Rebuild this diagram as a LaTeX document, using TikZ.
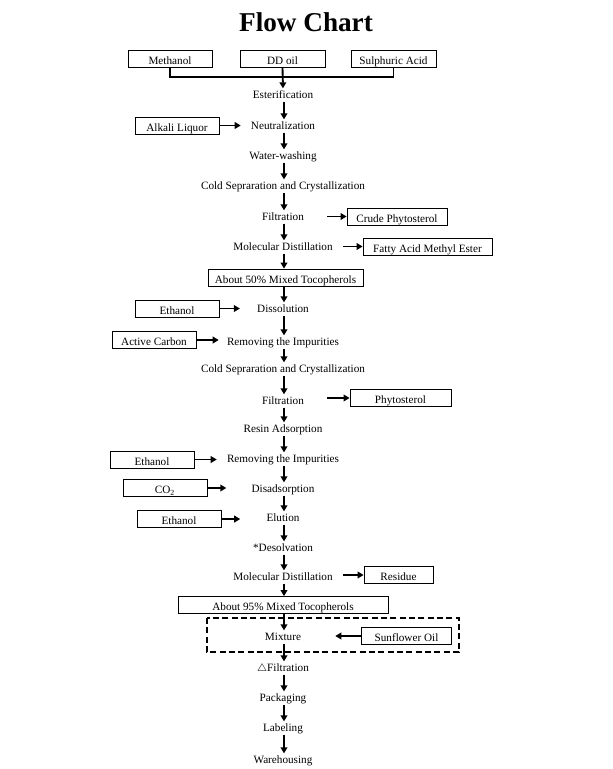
\documentclass[tikz,border=0pt]{standalone}
\usepackage{fontspec}
\setmainfont{Liberation Serif}
\usetikzlibrary{arrows.meta}

\begin{document}
\begin{tikzpicture}[x=0.75pt, y=-0.75pt,
		stage/.style={inner sep=1.5pt, text height=6pt, text depth=0.6pt, font=\fontsize{8.4}{10}\selectfont},
		feed/.style={draw, line width=0.6pt, inner sep=1pt, minimum height=12.75pt, text height=8.3pt, text depth=0pt, font=\fontsize{8.4}{10}\selectfont},
		flow/.style={line width=1.4pt, -{Triangle[length=4.5pt, width=5pt]}}]
		%%%%% START %%%%%
		\useasboundingbox (0, 0) rectangle (612, 769);
		
		\node (title) at (306, 22) {\fontsize{20.4}{24}\selectfont\bfseries Flow Chart};
		
		\node[feed, minimum width=63pt] (methanol) at (170, 58.5) {Methanol};
		\node[feed, minimum width=63.75pt] (ddoil) at (282.5, 58.5) {DD oil};
		\node[feed, minimum width=63.75pt] (acid) at (393.5, 58.5) {Sulphuric Acid};
		\coordinate (join) at (283, 77);
		\draw[line width=1.4pt] (methanol.south) |- (join) -| (acid.south);
		
		\node[stage] (est) at (283, 95) {Esterification};
		\node[stage] (neut) at (283, 126) {Neutralization};
		\node[stage] (wash) at (283, 156) {Water-washing};
		\node[stage] (cold1) at (283, 186) {Cold Sepraration and Crystallization};
		\node[stage] (filt1) at (283, 217) {Filtration};
		\node[stage] (mdist1) at (283, 247) {Molecular Distillation};
		\node[feed, minimum width=116.25pt] (toco50) at (285.5, 277.5) {About 50\% Mixed Tocopherols};
		\node[stage] (diss) at (283, 309) {Dissolution};
		\node[stage] (rem1) at (283, 342) {Removing the Impurities};
		\node[stage] (cold2) at (283, 369) {Cold Sepraration and Crystallization};
		\node[stage] (filt2) at (283, 401) {Filtration};
		\node[stage] (resin) at (283, 429) {Resin Adsorption};
		\node[stage] (rem2) at (283, 459) {Removing the Impurities};
		\node[stage] (disad) at (283, 489) {Disadsorption};
		\node[stage] (elut) at (283, 518) {Elution};
		\node[stage] (desolv) at (283, 548) {*Desolvation};
		\node[stage] (mdist2) at (283, 577) {Molecular Distillation};
		\node[feed, minimum width=157.5pt] (toco95) at (283, 605) {About 95\% Mixed Tocopherols};
		\node[stage] (mix) at (283, 637) {Mixture};
		\node[stage] (filt3) at (283, 668) {$\triangle$Filtration};
		\node[stage] (pack) at (283, 698) {Packaging};
		\node[stage] (label) at (283, 728) {Labeling};
		\node[stage] (ware) at (283, 760) {Warehousing};
		
		% side inputs
		\node[feed, minimum width=63pt] (alkali) at (177, 125.5) {Alkali Liquor};
		\node[feed, minimum width=63pt] (eth1) at (177, 308.5) {Ethanol};
		\node[feed, minimum width=63pt] (carbon) at (154, 340) {Active Carbon};
		\node[feed, minimum width=63pt] (eth2) at (152, 459.5) {Ethanol};
		\node[feed, minimum width=63pt] (co2) at (165, 488) {CO\textsubscript{2}};
		\node[feed, minimum width=63pt] (eth3) at (179, 519) {Ethanol};
		\node[feed, minimum width=67.5pt] (sun) at (406.5, 636) {Sunflower Oil};
		
		% side outputs
		\node[feed, minimum width=75pt] (crude) at (397, 216.5) {Crude Phytosterol};
		\node[feed, minimum width=96.75pt] (fame) at (427.5, 246.5) {Fatty Acid Methyl Ester};
		\node[feed, minimum width=75.75pt] (phyto) at (400.5, 398) {Phytosterol};
		\node[feed, minimum width=51.75pt] (residue) at (398.5, 575) {Residue};
		
		\draw[line width=0.9pt, dash pattern=on 4.5pt off 2.5pt] (207, 618) rectangle (459, 652);
		
		% main line
		\draw[flow] (ddoil.south) -- (est.north);
		\foreach \a/\b in {est/neut, neut/wash, wash/cold1, cold1/filt1, filt1/mdist1, mdist1/toco50,
			toco50/diss, diss/rem1, rem1/cold2, cold2/filt2, filt2/resin, resin/rem2, rem2/disad,
			disad/elut, elut/desolv, desolv/mdist2, mdist2/toco95, toco95/mix, mix/filt3,
			filt3/pack, pack/label, label/ware}
			\draw[flow] (\a.south -| 284, 0) -- (\b.north -| 284, 0);
		
		% inputs from the left
		\foreach \a/\b/\g in {alkali/neut/6pt, eth1/diss/11.25pt, carbon/rem1/4.5pt,
			eth2/rem2/6pt, co2/disad/17.25pt, eth3/elut/18pt}
			\draw[flow, shorten >=\g] (\a.east) -- (\b.west |- \a.east);
		\draw[flow, shorten >=24pt] (sun.west) -- (mix.east |- sun.west);
		
		% outputs to the right
		\foreach \a/\b/\g in {filt1/crude/15.75pt, mdist1/fame/6pt, filt2/phyto/15.75pt, mdist2/residue/6pt}
			\draw[flow, shorten <=\g] (\a.east |- \b.west) -- (\b.west);
		
		%%%%% END %%%%%
	\end{tikzpicture}
\end{document}
